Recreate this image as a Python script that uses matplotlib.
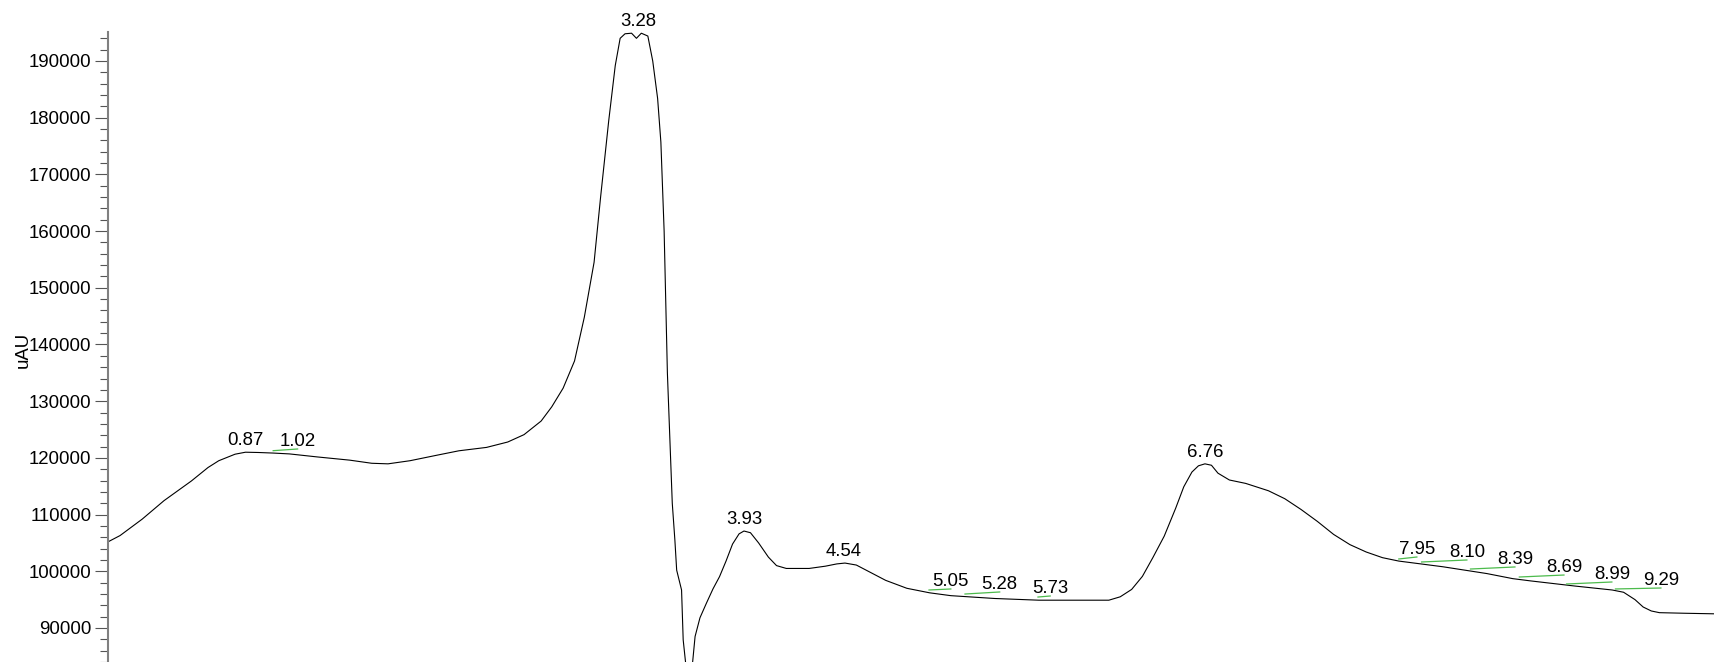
import matplotlib
matplotlib.use("Agg")
import matplotlib.pyplot as plt
import numpy as np
from matplotlib.ticker import MultipleLocator, FuncFormatter

plt.rcParams['font.family'] = ['Liberation Sans', 'DejaVu Sans']

# Chromatogram trace (time in min, signal in uAU)
time_min = [0.0, 0.10, 0.236, 0.37, 0.538, 0.64, 0.706, 0.806, 0.87, 0.95, 1.04, 1.14,
            1.31, 1.51, 1.645, 1.745, 1.88, 2.05, 2.18, 2.35, 2.48, 2.58, 2.685, 2.75,
            2.82, 2.89, 2.95, 3.01, 3.05, 3.10, 3.14, 3.17, 3.20, 3.24, 3.27, 3.30,
            3.34, 3.37, 3.40, 3.42, 3.44, 3.46, 3.49, 3.506, 3.517, 3.547, 3.557, 3.575,
            3.59, 3.61, 3.63, 3.66, 3.70, 3.74, 3.78, 3.82, 3.86, 3.90, 3.93, 3.97,
            4.02, 4.08, 4.13, 4.19, 4.33, 4.43, 4.50, 4.55, 4.62, 4.70, 4.80, 4.93,
            5.07, 5.20, 5.47, 5.74, 6.17, 6.24, 6.31, 6.376, 6.44, 6.51, 6.58, 6.63,
            6.68, 6.72, 6.76, 6.80, 6.84, 6.91, 7.01, 7.15, 7.25, 7.35, 7.45, 7.55,
            7.65, 7.75, 7.85, 7.95, 8.22, 8.49, 8.65, 8.76, 9.03, 9.26, 9.33, 9.40,
            9.45, 9.50, 9.55, 9.70, 9.885]
signal_uau = [104800, 106300, 109200, 112460, 115930, 118300, 119500, 120650, 121000,
              120950, 120850, 120700, 120170, 119600, 119050, 118950, 119500, 120500,
              121250, 121850, 122800, 124100, 126500, 129000, 132300, 137100, 144800,
              154500, 166000, 179500, 189200, 194000, 194800, 194900, 194000, 194900,
              194400, 190000, 183400, 175700, 160000, 135000, 112000, 105500, 100200,
              96700, 87900, 83000, 80500, 82500, 88500, 91800, 94400, 96900, 99050,
              101800, 104800, 106600, 107100, 106800, 105000, 102500, 101000, 100500,
              100500, 100900, 101300, 101450, 101100, 99900, 98400, 97000, 96200,
              95700, 95200, 94900, 94900, 95500, 96800, 99100, 102400, 106200, 111100,
              114900, 117500, 118600, 118950, 118700, 117300, 116100, 115500, 114200,
              112800, 110900, 108800, 106500, 104700, 103400, 102400, 101800, 100800,
              99600, 98700, 98300, 97400, 96700, 96300, 95000, 93700, 93000, 92700,
              92600, 92500]

# Peak labels (retention times)
peak_times = [0.87, 1.02, 3.28, 3.93, 4.54, 5.05, 5.28, 5.73, 6.76, 7.95, 8.10, 8.39,
              8.69, 8.99, 9.29]
peak_labels = ["0.87", "1.02", "3.28", "3.93", "4.54", "5.05", "5.28", "5.73", "6.76",
               "7.95", "8.10", "8.39", "8.69", "8.99", "9.29"]

# Integration baseline segments (green)
seg_labels = ["1.02", "5.05", "5.28", "5.73", "7.95", "8.10", "8.39", "8.69", "8.99", "9.29"]
seg_t0 = [1.04, 5.066, 5.287, 5.735, 7.95, 8.09, 8.39, 8.69, 8.98, 9.28]
seg_t1 = [1.19, 5.20, 5.50, 5.81, 8.061, 8.368, 8.663, 8.964, 9.258, 9.559]
seg_v0 = [121270, 96700, 95990, 95460, 102170, 101640, 100400, 98990, 97760, 96880]
seg_v1 = [121570, 96880, 96350, 95640, 102520, 101990, 100760, 99340, 98110, 97050]

W, H = 1714, 662
fig = plt.figure(figsize=(W / 100, H / 100), dpi=100)
ax = fig.add_axes([108 / W, 0.0, 1 - 108 / W, 1 - 32.3 / H])

ax.plot(time_min, signal_uau, color='black', lw=0.8)

for t0, t1, v0, v1 in zip(seg_t0, seg_t1, seg_v0, seg_v1):
    ax.plot([t0, t1], [v0, v1], color='#4cbb4c', lw=0.9)

tarr = np.array(time_min)
varr = np.array(signal_uau)
fs = 13.4
for pt, lab in zip(peak_times, peak_labels):
    if lab in seg_labels:
        i = seg_labels.index(lab)
        x, y = seg_t1[i], seg_v1[i]
        off = 3
    else:
        x = pt
        near = np.abs(tarr - pt) <= 0.06
        y = float(varr[near].max()) if near.any() else float(np.interp(pt, tarr, varr))
        off = 7
    ax.annotate(lab, (x, y), xytext=(0, off), textcoords='offset pixels',
                ha='center', va='baseline', fontsize=fs, color='black',
                annotation_clip=False)

ax.set_xlim(0.026, 9.885)
ax.set_ylim(84000, 195060)

for s in ['top', 'right', 'bottom']:
    ax.spines[s].set_visible(False)
ax.spines['left'].set_color('#808080')
ax.spines['left'].set_linewidth(1.5)

ax.set_xticks([])
ax.yaxis.set_major_locator(MultipleLocator(10000))
ax.yaxis.set_minor_locator(MultipleLocator(2000))
ax.yaxis.set_major_formatter(FuncFormatter(lambda v, p: f"{int(round(v))}"))
ax.tick_params(axis='y', which='major', length=9.4, width=0.8, color='#555555',
               pad=2.4, labelsize=fs, direction='out')
ax.tick_params(axis='y', which='minor', length=5.5, width=0.8, color='#555555',
               direction='out')

fig.text(23 / W, 1 - 349.5 / H, 'uAU', rotation=90, ha='center', va='center',
         fontsize=fs)

fig.savefig('out.png', dpi=100)
